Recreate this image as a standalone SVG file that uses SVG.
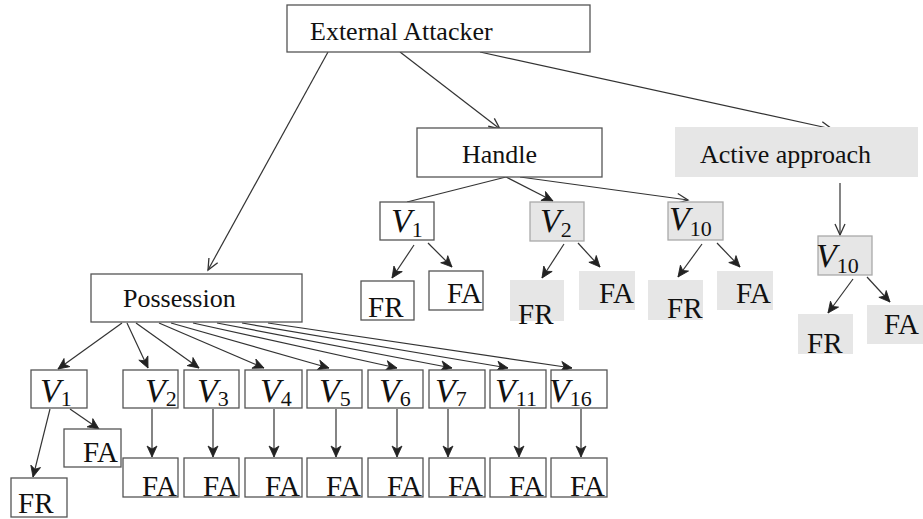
<svg xmlns="http://www.w3.org/2000/svg" width="923" height="519" viewBox="0 0 923 519">
<defs>
<style>
.box{fill:#fff;stroke:#555;stroke-width:1.3}
.gbox{fill:#e6e6e6;stroke:none}
.gvbox{fill:#e6e6e6;stroke:#aaa;stroke-width:1.3}
text{font-family:'Liberation Serif','Times New Roman',Times,'DejaVu Serif',serif;fill:#111}
.lbl{font-size:26px}
.fa{font-size:29px}
.v{font-size:34px;font-style:italic}
.sub{font-size:22px;font-style:normal}
.ln{stroke:#333;stroke-width:1.2;fill:none}
.lo{stroke:#333;stroke-width:1.2;fill:none;marker-end:url(#open)}
.lf{stroke:#333;stroke-width:1.2;fill:none;marker-end:url(#fill)}
</style>
<marker id="open" markerUnits="userSpaceOnUse" markerWidth="14" markerHeight="14" refX="12" refY="6" orient="auto">
<path d="M1,1 L12,6 L1,11" fill="none" stroke="#333" stroke-width="1.3"/>
</marker>
<marker id="fill" markerUnits="userSpaceOnUse" markerWidth="14" markerHeight="14" refX="12" refY="6" orient="auto">
<path d="M1,1 L12,6 L1,11 L4,6 Z" fill="#222" stroke="#222" stroke-width="0.8"/>
</marker>
</defs>

<g id="connectors">
<line class="lo" x1="328" y1="52" x2="208" y2="270"/>
<line class="lo" x1="400" y1="52" x2="500" y2="129"/>
<line class="lo" x1="480" y1="52" x2="832" y2="129"/>
<line class="ln" x1="506" y1="177" x2="407" y2="202"/>
<line class="lf" x1="506" y1="177" x2="553" y2="201"/>
<line class="lo" x1="520" y1="177" x2="688" y2="200"/>
<line class="lf" x1="414" y1="245" x2="392" y2="278"/>
<line class="lf" x1="428" y1="243" x2="452" y2="267"/>
<line class="lf" x1="564" y1="244" x2="542" y2="278"/>
<line class="lf" x1="578" y1="243" x2="600" y2="267"/>
<line class="lf" x1="702" y1="244" x2="678" y2="277"/>
<line class="lf" x1="717" y1="243" x2="740" y2="267"/>
<line class="lo" x1="840" y1="183" x2="840" y2="235"/>
<line class="lf" x1="853" y1="279" x2="828" y2="313"/>
<line class="lf" x1="867" y1="277" x2="890" y2="302"/>
<line class="lf" x1="122" y1="323" x2="58" y2="369"/>
<line class="lf" x1="127" y1="323" x2="148" y2="368"/>
<line class="lf" x1="136" y1="323" x2="199" y2="368"/>
<line class="lf" x1="159" y1="323" x2="264" y2="368"/>
<line class="lf" x1="171" y1="323" x2="329" y2="368"/>
<line class="lf" x1="193" y1="323" x2="397" y2="368"/>
<line class="lf" x1="217" y1="323" x2="452" y2="368"/>
<line class="lf" x1="242" y1="323" x2="508" y2="368"/>
<line class="lf" x1="268" y1="323" x2="572" y2="368"/>
<line class="lf" x1="70" y1="409" x2="99" y2="429"/>
<line class="lf" x1="50" y1="409" x2="33" y2="477"/>
<line class="lf" x1="152" y1="409" x2="152" y2="457"/>
<line class="lf" x1="213" y1="409" x2="213" y2="457"/>
<line class="lf" x1="274" y1="409" x2="274" y2="457"/>
<line class="lf" x1="336" y1="409" x2="336" y2="457"/>
<line class="lf" x1="397" y1="409" x2="397" y2="457"/>
<line class="lf" x1="448" y1="409" x2="448" y2="457"/>
<line class="lf" x1="519" y1="409" x2="519" y2="457"/>
<line class="lf" x1="581" y1="409" x2="581" y2="457"/>
</g>

<g id="external-attacker"><rect class="box" x="287" y="5" width="303" height="47"/><text class="lbl" x="310" y="40">External Attacker</text></g>
<g id="handle"><rect class="box" x="417" y="128" width="185" height="49"/><text class="lbl" x="462" y="163">Handle</text></g>
<g id="active-approach"><rect class="gbox" x="675" y="127" width="243" height="50"/><text class="lbl" x="700" y="163">Active approach</text></g>
<g id="possession"><rect class="box" x="91" y="274" width="211" height="48"/><text class="lbl" x="123" y="307">Possession</text></g>

<g id="h-v1"><rect class="box" x="380" y="202" width="54" height="38"/><text class="v" x="391" y="232">V<tspan class="sub" dy="5">1</tspan></text></g>
<g id="h-v2"><rect class="gvbox" x="530" y="202" width="54" height="39"/><text class="v" x="540" y="232">V<tspan class="sub" dy="5">2</tspan></text></g>
<g id="h-v10"><rect class="gvbox" x="668" y="202" width="55" height="38"/><text class="v" x="669" y="230">V<tspan class="sub" dy="6">10</tspan></text></g>
<g id="a-v10"><rect class="gvbox" x="818" y="236" width="54" height="39"/><text class="v" x="816" y="267">V<tspan class="sub" dy="6">10</tspan></text></g>

<g id="h-v1-fr"><rect class="box" x="361" y="281" width="53" height="39"/><text class="fa" x="368" y="317">FR</text></g>
<g id="h-v1-fa"><rect class="box" x="429" y="271" width="54" height="39"/><text class="fa" x="447" y="303">FA</text></g>
<g id="h-v2-fr"><rect class="gbox" x="510" y="280" width="54" height="41"/><text class="fa" x="518" y="324">FR</text></g>
<g id="h-v2-fa"><rect class="gbox" x="579" y="271" width="56" height="39"/><text class="fa" x="599" y="303">FA</text></g>
<g id="h-v10-fr"><rect class="gbox" x="648" y="280" width="55" height="40"/><text class="fa" x="667" y="318">FR</text></g>
<g id="h-v10-fa"><rect class="gbox" x="717" y="271" width="56" height="39"/><text class="fa" x="736" y="303">FA</text></g>
<g id="a-v10-fr"><rect class="gbox" x="798" y="314" width="55" height="40"/><text class="fa" x="807" y="353">FR</text></g>
<g id="a-v10-fa"><rect class="gbox" x="867" y="305" width="56" height="39"/><text class="fa" x="884" y="334">FA</text></g>

<g id="p-v1"><rect class="box" x="31" y="370" width="56" height="38"/><text class="v" x="40" y="402">V<tspan class="sub" dy="4">1</tspan></text></g>
<g id="p-v1-fa"><rect class="box" x="64" y="429" width="57" height="38"/><text class="fa" x="83" y="462">FA</text></g>
<g id="p-v1-fr"><rect class="box" x="11" y="478" width="56" height="39"/><text class="fa" x="18" y="513">FR</text></g>

<g id="p-v2"><rect class="box" x="123" y="370" width="55" height="38"/><text class="v" x="145" y="402">V<tspan class="sub" dy="4">2</tspan></text></g>
<g id="p-v3"><rect class="box" x="184" y="370" width="55" height="38"/><text class="v" x="197" y="402">V<tspan class="sub" dy="4">3</tspan></text></g>
<g id="p-v4"><rect class="box" x="245" y="370" width="57" height="38"/><text class="v" x="260" y="402">V<tspan class="sub" dy="4">4</tspan></text></g>
<g id="p-v5"><rect class="box" x="307" y="370" width="55" height="38"/><text class="v" x="319" y="402">V<tspan class="sub" dy="4">5</tspan></text></g>
<g id="p-v6"><rect class="box" x="368" y="370" width="55" height="38"/><text class="v" x="379" y="402">V<tspan class="sub" dy="4">6</tspan></text></g>
<g id="p-v7"><rect class="box" x="429" y="370" width="56" height="38"/><text class="v" x="435" y="402">V<tspan class="sub" dy="4">7</tspan></text></g>
<g id="p-v11"><rect class="box" x="490" y="370" width="56" height="38"/><text class="v" x="495" y="402">V<tspan class="sub" dy="4">11</tspan></text></g>
<g id="p-v16"><rect class="box" x="551" y="370" width="56" height="38"/><text class="v" x="549" y="402">V<tspan class="sub" dy="4">16</tspan></text></g>

<g id="p-v2-fa"><rect class="box" x="123" y="458" width="55" height="39"/><text class="fa" x="142" y="496">FA</text></g>
<g id="p-v3-fa"><rect class="box" x="184" y="458" width="55" height="39"/><text class="fa" x="203" y="496">FA</text></g>
<g id="p-v4-fa"><rect class="box" x="245" y="458" width="57" height="39"/><text class="fa" x="265" y="496">FA</text></g>
<g id="p-v5-fa"><rect class="box" x="307" y="458" width="55" height="39"/><text class="fa" x="326" y="496">FA</text></g>
<g id="p-v6-fa"><rect class="box" x="368" y="458" width="55" height="39"/><text class="fa" x="387" y="496">FA</text></g>
<g id="p-v7-fa"><rect class="box" x="429" y="458" width="56" height="39"/><text class="fa" x="448" y="496">FA</text></g>
<g id="p-v11-fa"><rect class="box" x="490" y="458" width="56" height="39"/><text class="fa" x="509" y="496">FA</text></g>
<g id="p-v16-fa"><rect class="box" x="551" y="458" width="56" height="39"/><text class="fa" x="570" y="496">FA</text></g>
</svg>
